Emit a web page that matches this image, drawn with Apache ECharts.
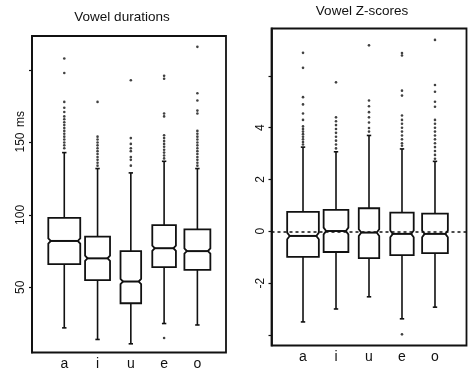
<!DOCTYPE html>
<html>
<head>
<meta charset="utf-8">
<script src="https://cdn.jsdelivr.net/npm/echarts@6/dist/echarts.min.js"></script>
<style>
  html, body { margin: 0; padding: 0; background: #fff; }
  #chart { width: 473px; height: 374px; }
</style>
</head>
<body>
<div id="chart"></div>
<script>
// ---------- data ----------
const categories = ['a', 'i', 'u', 'e', 'o'];
// relative box widths (varwidth, proportional to sqrt(n))
const boxWidths = [0.96, 0.75, 0.62, 0.71, 0.78];

// Vowel durations (ms)
const durLow  = [22, 14, 11, 25, 24];
const durQ1   = [66, 55, 39, 64, 62];
const durMed  = [82, 70, 54, 77, 75];
const durQ3   = [98, 85, 75, 93, 90];
const durHigh = [143, 132, 129, 137, 132];
const durNotch = 1.8;
const durOutA = [146, 148, 150, 152, 154, 156, 158, 160, 162, 164, 166, 168, 171, 174, 178, 198, 208];
const durOutI = [134, 136, 138, 140, 142, 144, 146, 148, 150, 152, 154, 178];
const durOutU = [134, 138, 140, 144, 146, 149, 153, 193];
const durOutE = [15, 139, 141, 143, 145, 147, 149, 151, 153, 155, 168, 170, 194, 196];
const durOutO = [134, 136, 138, 140, 142, 144, 146, 148, 150, 152, 154, 156, 158, 170, 172, 179, 184, 216];
const durTicks = [50, 100, 150, 200];
const durTickLabels = [50, 100, 150];

// Vowel Z-scores
const zLow  = [-3.5, -3.0, -2.53, -3.38, -2.93];
const zQ1   = [-0.99, -0.8, -1.04, -0.92, -0.84];
const zMed  = [-0.18, 0.01, -0.05, -0.1, -0.1];
const zQ3   = [0.75, 0.83, 0.89, 0.72, 0.68];
const zHigh = [3.25, 3.07, 3.7, 3.18, 2.7];
const zNotch = 0.13;
const zOutA = [3.35, 3.45, 3.55, 3.65, 3.75, 3.85, 3.95, 4.05, 4.3, 4.55, 4.9, 5.18, 6.31, 6.89];
const zOutI = [3.2, 3.35, 3.5, 3.65, 3.8, 3.95, 4.1, 4.25, 4.4, 5.75];
const zOutU = [3.85, 3.99, 4.2, 4.4, 4.6, 4.83, 5.05, 7.18];
const zOutE = [-3.98, 3.3, 3.4, 3.55, 3.7, 3.85, 4.0, 4.15, 4.3, 4.47, 5.24, 5.43, 6.79, 6.88];
const zOutO = [2.8, 2.95, 3.1, 3.25, 3.4, 3.55, 3.7, 3.85, 4.0, 4.15, 4.3, 4.81, 5.0, 5.39, 5.65, 7.39];
const zTicks = [-4, -2, 0, 2, 4, 6];
const zTickLabels = [-2, 0, 2, 4];

// ---------- build ----------
function boxData(lo, q1, med, q3, hi, notch) {
  return categories.map((c, i) => [i, lo[i], q1[i], med[i], q3[i], hi[i], boxWidths[i], notch]);
}
function outData(lists) {
  const out = [];
  lists.forEach((arr, i) => arr.forEach(v => out.push([i, v])));
  return out;
}

const INK = '#111';
function renderBox(params, api) {
  const i = api.value(0);
  const lo = api.value(1), q1 = api.value(2), med = api.value(3), q3 = api.value(4), hi = api.value(5);
  const w = api.value(6), nh = api.value(7);
  const unit = api.size([1, 0])[0];
  const hw = w * unit / 2;
  const x = api.coord([i, med])[0];
  const y = v => api.coord([i, v])[1];
  const yLo = y(lo), yQ1 = y(q1), yMed = y(med), yQ3 = y(q3), yHi = y(hi);
  const yN1 = y(med - nh), yN2 = y(med + nh);
  const ind = 2.5;
  const L = x - hw, R = x + hw;
  const st = { stroke: INK, lineWidth: 1.8, fill: null };
  const sw = 2.2;
  return {
    type: 'group',
    children: [
      { type: 'polygon', shape: { points: [[L, yQ1], [R, yQ1], [R, yN1], [R - ind, yMed], [R, yN2], [R, yQ3], [L, yQ3], [L, yN2], [L + ind, yMed], [L, yN1]] }, style: st },
      { type: 'line', shape: { x1: L + ind, y1: yMed, x2: R - ind, y2: yMed }, style: { stroke: INK, lineWidth: 2 } },
      { type: 'line', shape: { x1: x, y1: yQ3, x2: x, y2: yHi }, style: { stroke: INK, lineWidth: 1.6 } },
      { type: 'line', shape: { x1: x, y1: yQ1, x2: x, y2: yLo }, style: { stroke: INK, lineWidth: 1.6 } },
      { type: 'line', shape: { x1: x - sw, y1: yHi, x2: x + sw, y2: yHi }, style: { stroke: INK, lineWidth: 1.6 } },
      { type: 'line', shape: { x1: x - sw, y1: yLo, x2: x + sw, y2: yLo }, style: { stroke: INK, lineWidth: 1.6 } }
    ]
  };
}

const FONT = '"Liberation Sans", Arial, sans-serif';

function xAxisFor(gridIndex, min, max, margin) {
  return {
    type: 'value', gridIndex, min, max,
    axisLine: { show: false, onZero: false }, axisTick: { show: false }, splitLine: { show: false },
    axisLabel: {
      customValues: [0, 1, 2, 3, 4],
      formatter: v => categories[Math.round(v)],
      color: INK, fontFamily: FONT, fontSize: 14, margin
    }
  };
}
function yAxisFor(gridIndex, min, max, ticks, labels, margin) {
  return {
    type: 'value', gridIndex, min, max, position: 'left',
    axisLine: { show: true, onZero: false, lineStyle: { color: INK, width: 1.8 } },
    axisTick: { show: true, customValues: ticks, length: 3, lineStyle: { color: INK, width: 1.2 } },
    splitLine: { show: false },
    axisLabel: {
      customValues: labels, rotate: 90, color: INK, fontFamily: FONT, fontSize: 12, margin
    }
  };
}

const chart = echarts.init(document.getElementById('chart'), null, { renderer: 'canvas' });
chart.setOption({
  animation: false,
  backgroundColor: '#fff',
  title: [
    { text: 'Vowel durations', left: 122, top: 10.5, padding: 0, textAlign: 'center',
      textStyle: { fontFamily: FONT, fontSize: 13.5, fontWeight: 'normal', color: INK } },
    { text: 'Vowel Z-scores', left: 362, top: 4.5, padding: 0, textAlign: 'center',
      textStyle: { fontFamily: FONT, fontSize: 13.5, fontWeight: 'normal', color: INK } }
  ],
  grid: [
    { left: 32, top: 36, width: 194, height: 316.5, show: true, borderColor: INK, borderWidth: 1.8 },
    { left: 271.5, top: 28.5, width: 195, height: 317, show: true, borderColor: INK, borderWidth: 1.8 }
  ],
  xAxis: [
    xAxisFor(0, -0.97, 4.86, 5),
    xAxisFor(1, -0.955, 4.955, 5)
  ],
  yAxis: [
    yAxisFor(0, 5, 223.5, durTicks, durTickLabels, 5),
    yAxisFor(1, -4.41, 7.83, zTicks, zTickLabels, 5)
  ],
  graphic: [
    { type: 'text', x: 21, y: 119, rotation: Math.PI / 2,
      style: { text: 'ms', fontFamily: FONT, fontSize: 12, fill: INK, align: 'center', verticalAlign: 'middle' } }
  ],
  series: [
    { type: 'custom', name: 'Vowel durations', xAxisIndex: 0, yAxisIndex: 0,
      data: boxData(durLow, durQ1, durMed, durQ3, durHigh, durNotch), renderItem: renderBox, z: 2 },
    { type: 'scatter', xAxisIndex: 0, yAxisIndex: 0, symbol: 'circle', symbolSize: 2.6,
      itemStyle: { color: INK }, data: outData([durOutA, durOutI, durOutU, durOutE, durOutO]), z: 3 },
    { type: 'custom', name: 'Vowel Z-scores', xAxisIndex: 1, yAxisIndex: 1,
      data: boxData(zLow, zQ1, zMed, zQ3, zHigh, zNotch), renderItem: renderBox, z: 2,
      markLine: { silent: true, symbol: 'none', label: { show: false },
        lineStyle: { color: INK, type: [3, 3], width: 1.5 }, data: [{ yAxis: 0 }] } },
    { type: 'scatter', xAxisIndex: 1, yAxisIndex: 1, symbol: 'circle', symbolSize: 2.6,
      itemStyle: { color: INK }, data: outData([zOutA, zOutI, zOutU, zOutE, zOutO]), z: 3 }
  ]
});
</script>
</body>
</html>
